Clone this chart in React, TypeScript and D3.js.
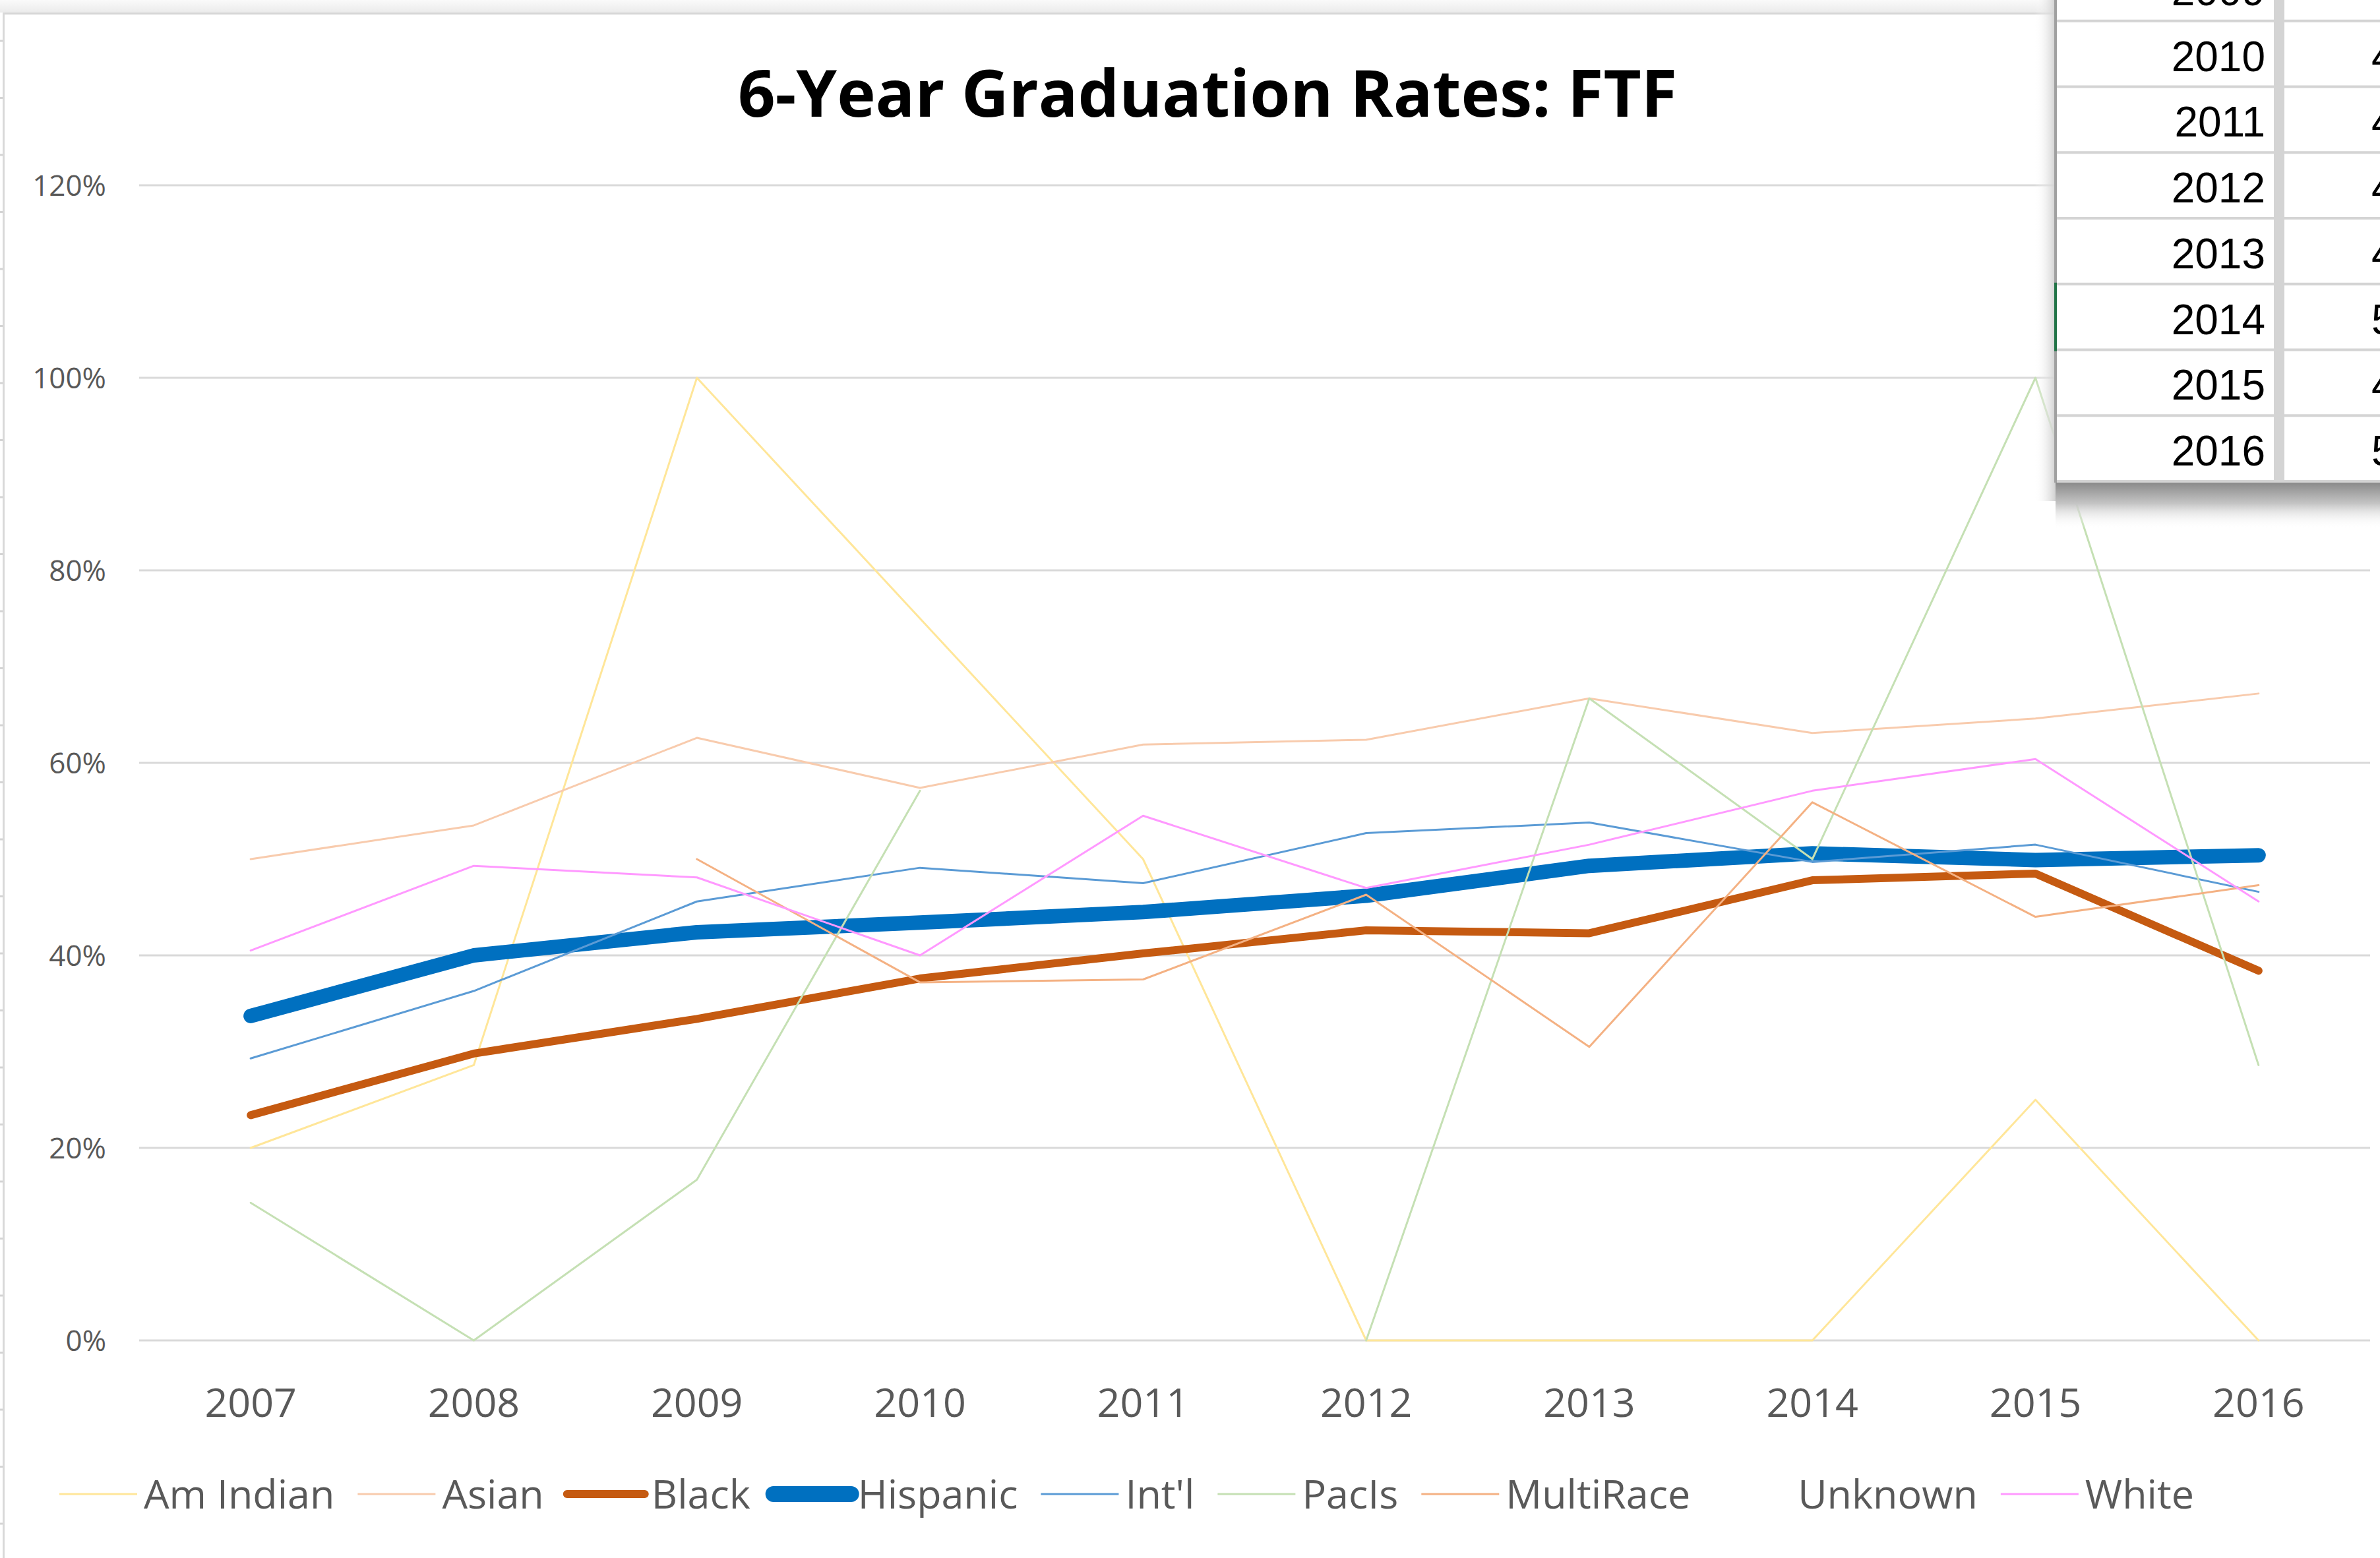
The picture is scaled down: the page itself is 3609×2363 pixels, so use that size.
import { useEffect, useRef } from 'react'
import * as d3 from 'd3'

const WIDTH = 3609
const HEIGHT = 2363

// Categories and axis ticks
const years = ['2007', '2008', '2009', '2010', '2011', '2012', '2013', '2014', '2015', '2016']
const yTicks = [0, 0.2, 0.4, 0.6, 0.8, 1.0, 1.2]

// 6-year graduation rates by group (null = no data)
const amIndian = [0.2, 0.286, 1.0, 0.75, 0.5, 0, 0, 0, 0.25, 0]
const asian = [0.5, 0.535, 0.626, 0.574, 0.619, 0.624, 0.667, 0.631, 0.646, 0.672]
const black = [0.234, 0.298, 0.334, 0.376, 0.402, 0.426, 0.423, 0.478, 0.485, 0.384]
const hispanic = [0.337, 0.4, 0.424, 0.434, 0.445, 0.462, 0.493, 0.506, 0.499, 0.504]
const intl = [0.293, 0.363, 0.456, 0.491, 0.475, 0.527, 0.538, 0.497, 0.515, 0.466]
const pacIs = [0.143, 0, 0.167, 0.571, null, 0, 0.667, 0.5, 1.0, 0.286]
const multiRace = [null, null, 0.5, 0.372, 0.375, 0.463, 0.305, 0.559, 0.44, 0.473]
const unknown = [null, null, null, null, null, null, null, null, null, null]
const white = [0.405, 0.493, 0.481, 0.4, 0.545, 0.47, 0.515, 0.571, 0.604, 0.456]

const SERIES = [
  { name: 'Am Indian', values: amIndian, color: '#FFE699', width: 3 },
  { name: 'Asian', values: asian, color: '#F8CBAD', width: 3 },
  { name: 'Black', values: black, color: '#C55A11', width: 12 },
  { name: 'Hispanic', values: hispanic, color: '#0070C0', width: 22 },
  { name: "Int'l", values: intl, color: '#5B9BD5', width: 3 },
  { name: 'PacIs', values: pacIs, color: '#C5E0B4', width: 3 },
  { name: 'MultiRace', values: multiRace, color: '#F4B183', width: 3 },
  { name: 'Unknown', values: unknown, color: 'none', width: 3 },
  { name: 'White', values: white, color: '#FF99FF', width: 3 },
]

// Spreadsheet cells peeking in at the top right
const tableYears = ['2009', '2010', '2011', '2012', '2013', '2014', '2015', '2016']
const tableValues = hispanic.slice(2)

const FONT = "'Open Sans', 'Noto Sans', sans-serif"

function App() {
  const svgRef = useRef(null)

  useEffect(() => {
    const svg = d3.select(svgRef.current)
    svg.selectAll('*').remove()

    const defs = svg.append('defs')
    const topGrad = defs.append('linearGradient').attr('id', 'topGrad').attr('x1', 0).attr('x2', 0).attr('y1', 0).attr('y2', 1)
    topGrad.append('stop').attr('offset', '0%').attr('stop-color', '#FAFAFA')
    topGrad.append('stop').attr('offset', '100%').attr('stop-color', '#EBEBEB')
    const shadowB = defs.append('linearGradient').attr('id', 'shadowB').attr('x1', 0).attr('x2', 0).attr('y1', 0).attr('y2', 1)
    shadowB.append('stop').attr('offset', '0%').attr('stop-color', '#8A8A8A')
    shadowB.append('stop').attr('offset', '45%').attr('stop-color', '#C4C4C4')
    shadowB.append('stop').attr('offset', '100%').attr('stop-color', '#FFFFFF').attr('stop-opacity', 0)
    const shadowL = defs.append('linearGradient').attr('id', 'shadowL').attr('x1', 1).attr('x2', 0).attr('y1', 0).attr('y2', 0)
    shadowL.append('stop').attr('offset', '0%').attr('stop-color', '#D0D0D0')
    shadowL.append('stop').attr('offset', '100%').attr('stop-color', '#FFFFFF').attr('stop-opacity', 0)

    // Window background + chart frame
    svg.append('rect').attr('width', WIDTH).attr('height', HEIGHT).attr('fill', '#fff')
    svg.append('rect').attr('width', WIDTH).attr('height', 19).attr('fill', 'url(#topGrad)')
    svg.append('line').attr('x1', 4).attr('x2', WIDTH).attr('y1', 20.5).attr('y2', 20.5)
      .attr('stroke', '#D6D6D6').attr('stroke-width', 3)
    svg.append('line').attr('x1', 5.5).attr('x2', 5.5).attr('y1', 19).attr('y2', HEIGHT)
      .attr('stroke', '#D9D9D9').attr('stroke-width', 3)
    svg.selectAll('.rowtick')
      .data(d3.range(62, HEIGHT, 86.5))
      .join('line')
      .attr('x1', 0).attr('x2', 4)
      .attr('y1', d => d).attr('y2', d => d)
      .attr('stroke', '#D4D4D4').attr('stroke-width', 3)

    const margin = { top: 281, right: 15, bottom: 330, left: 211 }
    const x = d3.scaleBand().domain(years).range([margin.left, WIDTH - margin.right])
    const cx = d => x(d) + x.bandwidth() / 2
    const y = d3.scaleLinear().domain([0, 1.2]).range([HEIGHT - margin.bottom, margin.top])

    // Gridlines
    svg.append('g')
      .selectAll('line')
      .data(yTicks)
      .join('line')
      .attr('x1', margin.left).attr('x2', WIDTH - margin.right)
      .attr('y1', d => y(d)).attr('y2', d => y(d))
      .attr('stroke', '#D9D9D9').attr('stroke-width', 3)

    // Y labels
    svg.append('g')
      .selectAll('text')
      .data(yTicks)
      .join('text')
      .attr('x', 161)
      .attr('y', d => y(d))
      .attr('dy', '0.36em')
      .attr('text-anchor', 'end')
      .attr('fill', '#595959')
      .attr('font-family', FONT)
      .attr('font-size', 44)
      .text(d => d3.format('.0%')(d))

    // X labels
    svg.append('g')
      .selectAll('text')
      .data(years)
      .join('text')
      .attr('x', d => cx(d))
      .attr('y', 2149)
      .attr('text-anchor', 'middle')
      .attr('fill', '#595959')
      .attr('font-family', FONT)
      .attr('font-size', 61)
      .text(d => d)

    // Series lines
    const line = d3.line()
      .defined(d => d.v != null)
      .x(d => cx(d.year))
      .y(d => y(d.v))

    SERIES.forEach(s => {
      if (s.color === 'none') return
      svg.append('path')
        .datum(years.map((yr, i) => ({ year: yr, v: s.values[i] })))
        .attr('d', line)
        .attr('fill', 'none')
        .attr('stroke', s.color)
        .attr('stroke-width', s.width)
        .attr('stroke-linejoin', 'round')
        .attr('stroke-linecap', 'round')
    })

    // Title
    svg.append('text')
      .attr('x', 1831)
      .attr('y', 177)
      .attr('text-anchor', 'middle')
      .attr('font-family', FONT)
      .attr('font-weight', 700)
      .attr('font-size', 99)
      .attr('fill', '#000')
      .text('6-Year Graduation Rates: FTF')

    // Legend, laid out left to right
    const legend = svg.append('g').attr('transform', 'translate(90, 2266)')
    let offset = 0
    SERIES.forEach(s => {
      const item = legend.append('g').attr('transform', `translate(${offset},0)`)
      item.append('line')
        .attr('x1', 0).attr('x2', 118)
        .attr('stroke', s.color)
        .attr('stroke-width', s.width === 22 ? 24 : s.width)
        .attr('stroke-linecap', s.width > 3 ? 'round' : 'butt')
      const t = item.append('text')
        .attr('x', 128)
        .attr('dy', '0.36em')
        .attr('fill', '#595959')
        .attr('font-family', FONT)
        .attr('font-size', 61)
        .text(s.name)
      offset += 128 + t.node().getComputedTextLength() + 35
    })

    // Spreadsheet overlay (top right)
    const tLeft = 3117
    const rows = d3.scaleBand().domain(tableYears).range([-68, 730])
    svg.append('rect').attr('x', 3085).attr('y', 0).attr('width', 32).attr('height', 760).attr('fill', 'url(#shadowL)')
    svg.append('rect').attr('x', tLeft).attr('y', 732).attr('width', WIDTH - tLeft).attr('height', 70).attr('fill', 'url(#shadowB)')
    svg.append('rect').attr('x', tLeft).attr('y', 0).attr('width', WIDTH - tLeft).attr('height', 732).attr('fill', '#fff')
    svg.append('rect').attr('x', 3448).attr('y', 0).attr('width', 16).attr('height', 732).attr('fill', '#D4D4D4')
    svg.append('g')
      .selectAll('line')
      .data(tableYears)
      .join('line')
      .attr('x1', tLeft).attr('x2', WIDTH)
      .attr('y1', d => rows(d) + rows.bandwidth()).attr('y2', d => rows(d) + rows.bandwidth())
      .attr('stroke', '#D4D4D4').attr('stroke-width', 4)
    svg.append('line').attr('x1', 3117).attr('x2', 3117).attr('y1', 0).attr('y2', 732)
      .attr('stroke', '#A0A0A0').attr('stroke-width', 4)
    svg.append('line').attr('x1', 3117).attr('x2', 3117)
      .attr('y1', rows('2014') - 2).attr('y2', rows('2014') + rows.bandwidth() + 2)
      .attr('stroke', '#217346').attr('stroke-width', 4)
    svg.append('g')
      .selectAll('text')
      .data(tableYears)
      .join('text')
      .attr('x', 3435)
      .attr('y', d => rows(d) + rows.bandwidth() - 24)
      .attr('text-anchor', 'end')
      .attr('font-family', "'Liberation Sans', Arial, sans-serif")
      .attr('font-size', 64)
      .attr('fill', '#000')
      .text(d => d)
    svg.append('g')
      .selectAll('text')
      .data(tableValues)
      .join('text')
      .attr('x', 3596)
      .attr('y', (d, i) => rows(tableYears[i]) + rows.bandwidth() - 24)
      .attr('font-family', "'Liberation Sans', Arial, sans-serif")
      .attr('font-size', 64)
      .attr('fill', '#000')
      .text(d => d3.format('.1%')(d))
  }, [])

  return (
    <div style={{ width: WIDTH, height: HEIGHT, overflow: 'hidden' }}>
      <style>{'body{margin:0;overflow:hidden}'}</style>
      <svg ref={svgRef} width={WIDTH} height={HEIGHT} style={{ display: 'block' }} />
    </div>
  )
}

export default App
